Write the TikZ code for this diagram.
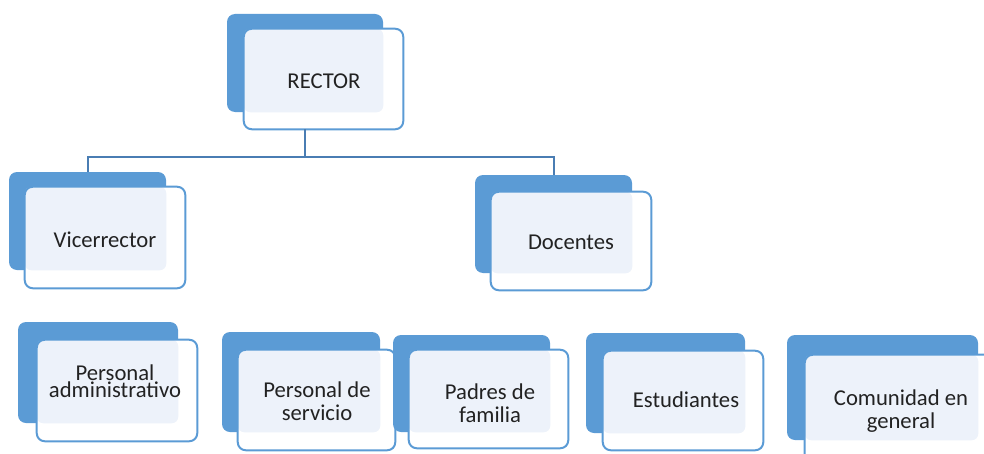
\documentclass[tikz,border=0pt]{standalone}
\usepackage{fontspec}
\setmainfont{Carlito}
\usetikzlibrary{fit}

\definecolor{boxblue}{HTML}{5B9BD5}
\definecolor{linkblue}{HTML}{4A7DB3}
\definecolor{paleblue}{HTML}{EDF2FA}
\definecolor{textgray}{HTML}{222222}

\begin{document}
\begin{tikzpicture}[
  x=0.75pt, y=-0.75pt,
  backbox/.style = {fill=boxblue, rounded corners=6pt, inner sep=0pt},
  frontbox/.style = {fill=white, rounded corners=6pt, inner sep=0pt},
  frontline/.style = {draw=boxblue, line width=1.5pt, rounded corners=6pt},
  pale/.style = {fill=paleblue, rounded corners=5pt},
  label text/.style = {text=textgray, align=center, font=\fontsize{17}{17.5}\selectfont},
  link/.style = {draw=linkblue, line width=1.5pt}
  ]
  \useasboundingbox (0,0) rectangle (984,453);

  % name / back box / front box / text position / text
  \foreach \n/\bx/\by/\bX/\bY/\fx/\fy/\fX/\fY/\tx/\ty/\txt in {
      rector/227/14/383/112/244/29/403/129/324/81/RECTOR,
      vice/9/172/166/270/25/187/185/288/105/240/Vicerrector,
      docentes/475/175/632/273/491/192/651/290/571/242/Docentes,
      pserv/222/332/380/432/238/350/395/450/317/401/{Personal de\\servicio},
      padres/393/335/550/432/409/350/568/448/490/403/{Padres de\\familia},
      estud/586/333/745/433/603/351/763/450/686/400/Estudiantes,
      comun/787/335/978/440/805/355/1004/462/901/411/{Comunidad en\\general}}
  {
    \node[backbox, fit={(\bx,\by) (\bX,\bY)}] (\n-back) {};
    \node[frontbox, fit={(\fx,\fy) (\fX,\fY)}] (\n-front) {};
    \fill[pale] (\n-front.north west) rectangle (\n-back.south east);
    \draw[frontline] (\n-front.north west) rectangle (\n-front.south east);
    \node[label text] (\n-text) at (\tx,\ty) {\txt};
  }

  % the box with the two lines on top of each other
  \node[backbox, fit={(18,322) (178,423)}] (padmin-back) {};
  \node[frontbox, fit={(37,340) (197,441)}] (padmin-front) {};
  \fill[pale] (padmin-front.north west) rectangle (padmin-back.south east);
  \draw[frontline] (padmin-front.north west) rectangle (padmin-front.south east);
  \node[label text, font=\fontsize{17}{9}\selectfont] (padmin-text) at (115,381) {Personal\\administrativo};

  % connector
  \draw[link] (rector-back.south |- rector-front.south) -- ++(0,28) coordinate (split)
    -| (vice-back.north);
  \draw[link] (split) -| (docentes-back.north);

\end{tikzpicture}
\end{document}
